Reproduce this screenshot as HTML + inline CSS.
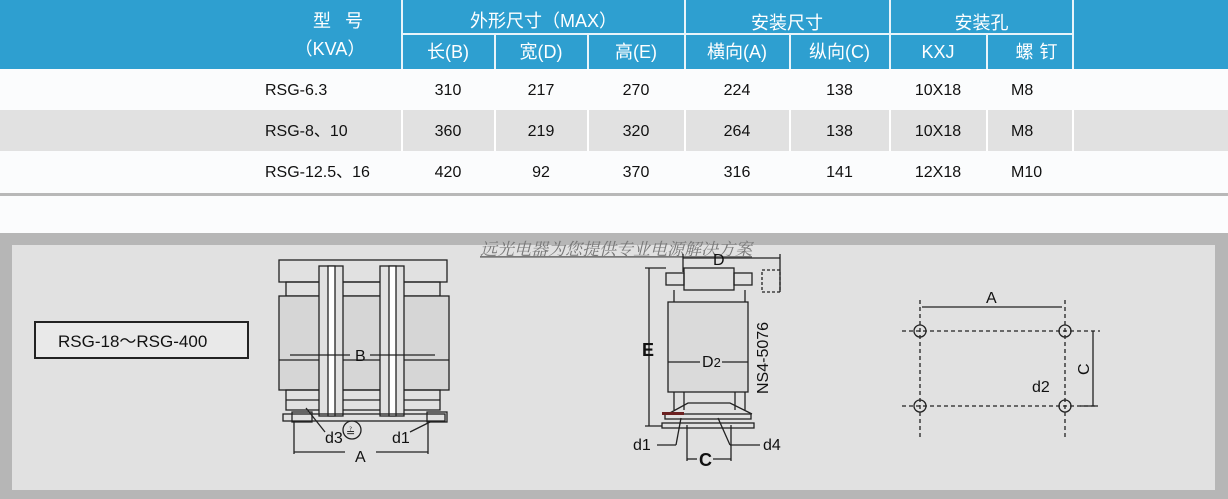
<!DOCTYPE html>
<html><head><meta charset="utf-8"><style>
body{margin:0;width:1228px;height:499px;overflow:hidden;background:#fbfcfd;font-family:"Liberation Sans","Noto Sans CJK SC",sans-serif;position:relative}
.a{position:absolute}
.hd{background:#2e9fd0;left:0;top:0;width:1228px;height:69px}
.vl{position:absolute;width:2px;background:#e8f4fa}
.t{position:absolute;color:#fff;font-size:18px;text-align:center;line-height:22px}
.c{position:absolute;font-size:16px;color:#111;text-align:center;line-height:20px;white-space:nowrap}
</style></head><body>
<div class="a hd"></div>
<div class="a" style="left:402px;top:33px;width:671px;height:2px;background:#e8f4fa"></div>
<div class="vl" style="left:401px;top:0;height:69px"></div>
<div class="vl" style="left:494px;top:35px;height:34px"></div>
<div class="vl" style="left:587px;top:35px;height:34px"></div>
<div class="vl" style="left:684px;top:0;height:69px"></div>
<div class="vl" style="left:789px;top:35px;height:34px"></div>
<div class="vl" style="left:889px;top:0;height:69px"></div>
<div class="vl" style="left:986px;top:35px;height:34px"></div>
<div class="vl" style="left:1072px;top:0;height:69px"></div>
<div class="t" style="left:285px;top:10px;width:120px;letter-spacing:14px">型号</div>
<div class="t" style="left:270px;top:38px;width:120px">（KVA）</div>
<div class="t" style="left:402px;top:10px;width:283px">外形尺寸（MAX）</div>
<div class="t" style="left:685px;top:12px;width:204px">安装尺寸</div>
<div class="t" style="left:890px;top:12px;width:183px">安装孔</div>
<div class="t" style="left:402px;top:41px;width:92px">长(B)</div>
<div class="t" style="left:495px;top:41px;width:92px">宽(D)</div>
<div class="t" style="left:588px;top:41px;width:96px">高(E)</div>
<div class="t" style="left:685px;top:41px;width:104px">横向(A)</div>
<div class="t" style="left:790px;top:41px;width:99px">纵向(C)</div>
<div class="t" style="left:890px;top:41px;width:96px">KXJ</div>
<div class="t" style="left:1003px;top:41px;width:73px;letter-spacing:6px">螺钉</div>
<div class="a" style="left:0;top:110px;width:1228px;height:41px;background:#e1e1e1"></div>
<div class="a" style="left:0;top:193px;width:1228px;height:3px;background:#b8b8b8"></div>
<div class="vl" style="left:401px;top:110px;height:41px;background:#fff"></div>
<div class="vl" style="left:494px;top:110px;height:41px;background:#fff"></div>
<div class="vl" style="left:587px;top:110px;height:41px;background:#fff"></div>
<div class="vl" style="left:684px;top:110px;height:41px;background:#fff"></div>
<div class="vl" style="left:789px;top:110px;height:41px;background:#fff"></div>
<div class="vl" style="left:889px;top:110px;height:41px;background:#fff"></div>
<div class="vl" style="left:986px;top:110px;height:41px;background:#fff"></div>
<div class="vl" style="left:1072px;top:110px;height:41px;background:#fff"></div>
<div class="c" style="left:265px;top:81px;text-align:left">RSG-6.3</div>
<div class="c" style="left:265px;top:122px;text-align:left">RSG-8、10</div>
<div class="c" style="left:265px;top:163px;text-align:left">RSG-12.5、16</div>
<div class="c" style="left:402px;top:81px;width:92px">310</div><div class="c" style="left:495px;top:81px;width:92px">217</div><div class="c" style="left:588px;top:81px;width:96px">270</div><div class="c" style="left:685px;top:81px;width:104px">224</div><div class="c" style="left:790px;top:81px;width:99px">138</div><div class="c" style="left:890px;top:81px;width:96px">10X18</div><div class="c" style="left:1011px;top:81px;text-align:left">M8</div>
<div class="c" style="left:402px;top:122px;width:92px">360</div><div class="c" style="left:495px;top:122px;width:92px">219</div><div class="c" style="left:588px;top:122px;width:96px">320</div><div class="c" style="left:685px;top:122px;width:104px">264</div><div class="c" style="left:790px;top:122px;width:99px">138</div><div class="c" style="left:890px;top:122px;width:96px">10X18</div><div class="c" style="left:1011px;top:122px;text-align:left">M8</div>
<div class="c" style="left:402px;top:163px;width:92px">420</div><div class="c" style="left:495px;top:163px;width:92px">92</div><div class="c" style="left:588px;top:163px;width:96px">370</div><div class="c" style="left:685px;top:163px;width:104px">316</div><div class="c" style="left:790px;top:163px;width:99px">141</div><div class="c" style="left:890px;top:163px;width:96px">12X18</div><div class="c" style="left:1011px;top:163px;text-align:left">M10</div>

<svg class="a" style="left:0;top:0" width="1228" height="499" font-family="Liberation Sans, sans-serif">
<rect x="0" y="233" width="1228" height="266" fill="#b6b6b6"/>
<rect x="12" y="245" width="1203" height="245" fill="#e1e1e1"/>
<rect x="35" y="322" width="213" height="36" fill="#e9e9e9" stroke="#222" stroke-width="2"/>
<text x="58" y="347" font-size="17" fill="#111">RSG-18～RSG-400</text>
<text x="480" y="255" font-size="17" fill="#777" font-style="italic" font-family="Liberation Serif, Noto Serif CJK SC, serif" text-decoration="underline">远光电器为您提供专业电源解决方案</text>
<g fill="none" stroke="#222" stroke-width="1.3">
<rect x="279" y="260" width="168" height="22"/>
<rect x="286" y="282" width="154" height="14"/>
<rect x="279" y="296" width="52" height="94" fill="#d6d6d6"/>
<rect x="340" y="296" width="50" height="94" fill="#d6d6d6"/>
<rect x="400" y="296" width="49" height="94" fill="#d6d6d6"/>
<line x1="279" y1="360" x2="449" y2="360"/>
<rect x="286" y="390" width="154" height="20"/>
<line x1="286" y1="400" x2="440" y2="400"/>
<rect x="319" y="266" width="24" height="150" fill="#e1e1e1"/>
<rect x="328" y="266" width="7" height="150" fill="#fff"/>
<rect x="380" y="266" width="24" height="150" fill="#e1e1e1"/>
<rect x="389" y="266" width="7" height="150" fill="#fff"/>
<rect x="283" y="414" width="162" height="7"/>
<rect x="292" y="412" width="20" height="10"/>
<rect x="427" y="412" width="20" height="10"/>
<line x1="294" y1="422" x2="294" y2="454"/><line x1="428" y1="422" x2="428" y2="454"/>
<line x1="294" y1="452" x2="345" y2="452"/><line x1="376" y1="452" x2="428" y2="452"/>
<line x1="306" y1="408" x2="325" y2="432"/><line x1="410" y1="432" x2="430" y2="422"/>
<line x1="290" y1="355" x2="350" y2="355"/><line x1="370" y1="355" x2="435" y2="355"/>
<circle cx="352" cy="430" r="9"/>
<line x1="683" y1="258" x2="780" y2="258"/><line x1="683" y1="254" x2="683" y2="272"/><line x1="780" y1="254" x2="780" y2="292"/>
<rect x="684" y="268" width="50" height="22"/>
<rect x="666" y="273" width="18" height="12"/><rect x="734" y="273" width="18" height="12"/>
<rect x="762" y="270" width="18" height="22" stroke-dasharray="3,2"/>
<line x1="674" y1="290" x2="674" y2="302"/><line x1="745" y1="290" x2="745" y2="302"/>
<rect x="668" y="302" width="80" height="90" fill="#dadada"/>
<line x1="668" y1="362" x2="700" y2="362"/><line x1="722" y1="362" x2="748" y2="362"/>
<line x1="674" y1="392" x2="674" y2="410"/><line x1="745" y1="392" x2="745" y2="410"/>
<line x1="684" y1="392" x2="684" y2="410"/><line x1="735" y1="392" x2="735" y2="410"/>
<polyline points="668,414 688,403 730,403 752,414"/>
<rect x="665" y="414" width="86" height="5"/>
<rect x="662" y="423" width="92" height="5"/>
<line x1="645" y1="268" x2="666" y2="268"/><line x1="649" y1="268" x2="649" y2="426"/><line x1="645" y1="426" x2="662" y2="426"/>
<line x1="657" y1="445" x2="676" y2="445"/><line x1="676" y1="445" x2="681" y2="418"/>
<line x1="687" y1="425" x2="687" y2="461"/><line x1="731" y1="425" x2="731" y2="461"/>
<line x1="687" y1="459" x2="697" y2="459"/><line x1="713" y1="459" x2="731" y2="459"/>
<line x1="730" y1="445" x2="760" y2="445"/><line x1="718" y1="418" x2="730" y2="445"/>
<g stroke-dasharray="4,3">
<line x1="902" y1="331" x2="1100" y2="331"/><line x1="902" y1="406" x2="1098" y2="406"/>
<line x1="920" y1="300" x2="920" y2="440"/><line x1="1065" y1="300" x2="1065" y2="440"/>
</g>
<circle cx="920" cy="331" r="6"/><circle cx="1065" cy="331" r="6"/><circle cx="920" cy="406" r="6"/><circle cx="1065" cy="406" r="6"/>
<line x1="922" y1="307" x2="1062" y2="307"/>
<line x1="1093" y1="331" x2="1093" y2="406"/><line x1="1080" y1="406" x2="1098" y2="406"/>
</g>
<rect x="662" y="412" width="22" height="3" fill="#6b2020"/>
<g font-size="16" fill="#111">
<text x="355" y="361">B</text>
<text x="325" y="443">d3</text>
<text x="346" y="436" font-size="11">≟</text>
<text x="392" y="443">d1</text>
<text x="355" y="462">A</text>
<text x="713" y="265">D</text>
<text x="642" y="356" font-weight="bold" font-size="18">E</text>
<text x="702" y="367">D<tspan font-size="13">2</tspan></text>
<text x="633" y="450">d1</text>
<text x="763" y="450">d4</text>
<text x="699" y="466" font-weight="bold" font-size="18">C</text>
<text transform="translate(768,394) rotate(-90)">NS4-5076</text>
<text x="986" y="303">A</text>
<text transform="translate(1089,375) rotate(-90)">C</text>
<text x="1032" y="392">d2</text>
</g>
</svg>
</body></html>
